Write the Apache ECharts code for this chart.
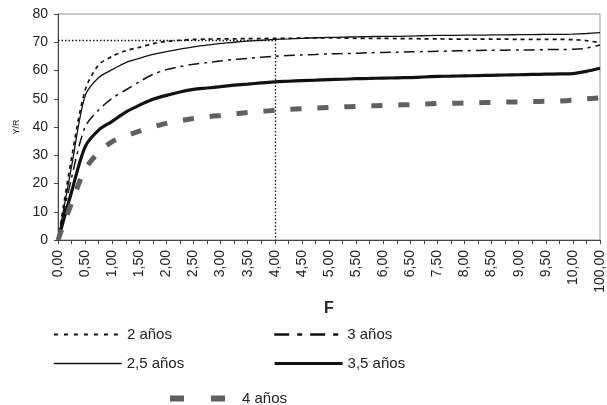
<!DOCTYPE html>
<html>
<head>
<meta charset="utf-8">
<script src="https://cdn.jsdelivr.net/npm/echarts@6/dist/echarts.min.js"></script>
<style>
html,body{margin:0;padding:0;background:#fff;}
#chart{width:607px;height:405px;}
</style>
</head>
<body>
<div id="chart"></div>
<script>
/*categorias del eje F*/
var cats = ['0,00','0,25','0,50','0,75','1,00','1,25','1,50','1,75','2,00','2,25','2,50','2,75','3,00','3,25','3,50','3,75','4,00','4,25','4,50','4,75','5,00','5,25','5,50','5,75','6,00','6,25','6,50','7,00','7,50','7,75','8,00','8,25','8,50','8,75','9,00','9,25','9,50','9,75','10,00','20,00','100,00'];

/*Y/R para cada edad*/
var y2  = [0,29,53,62,65,67,68.2,69.5,70.3,70.7,71,71.1,71.2,71.2,71.3,71.3,71.4,71.4,71.5,71.5,71.5,71.5,71.4,71.4,71.4,71.3,71.3,71.2,71.2,71.1,71.1,71.1,71.1,71.1,71,71,71,71,70.9,70.6,69.8];
var y25 = [0,26,51,57.5,60.3,62.8,64.3,65.7,66.7,67.6,68.4,69,69.6,70,70.4,70.7,71,71.2,71.4,71.6,71.7,71.8,71.9,72,72.1,72.1,72.2,72.3,72.4,72.4,72.5,72.5,72.6,72.6,72.7,72.7,72.8,72.8,72.9,73.1,73.4];
var y3  = [0,22,40,46,50.2,53.1,56,58.6,60.3,61.4,62.2,62.8,63.4,63.9,64.3,64.7,65,65.3,65.5,65.7,65.9,66,66.1,66.3,66.4,66.5,66.6,66.7,66.8,66.9,67,67.1,67.2,67.2,67.3,67.3,67.4,67.4,67.5,67.9,69];
var y35 = [0,17,33,38.9,42,45.3,47.7,49.8,51.2,52.4,53.3,53.8,54.3,54.8,55.2,55.6,56,56.2,56.4,56.6,56.8,56.9,57.1,57.2,57.3,57.4,57.5,57.7,57.9,58,58.1,58.2,58.3,58.4,58.5,58.6,58.7,58.8,58.9,59.7,60.8];
var y4  = [0,13,25,31,34.8,36.8,38.5,40,41.3,42.2,43,43.6,44.1,44.6,45.1,45.5,45.9,46.2,46.5,46.7,46.9,47.1,47.3,47.5,47.6,47.8,47.9,48.1,48.3,48.4,48.5,48.6,48.7,48.8,48.9,49,49.1,49.2,49.5,50,50.3];

/*linea de referencia*/
var refF = '4,00';
var refY = 70.8;

var fuente = 'Liberation Sans, Arial, sans-serif';
var myChart = echarts.init(document.getElementById('chart'));

function leyenda(nombre, x, y, linea, ancho){
	return {
		data:[nombre],
		left:x,
		top:y,
		padding:0,
		orient:'horizontal',
		itemWidth:ancho || 68,
		itemHeight:14,
		itemStyle:{opacity:0},
		lineStyle:linea,
		textStyle:{fontFamily:fuente,fontSize:15,color:'#222'},
		selectedMode:false
	};
}

var option = {
	animation:false,
	backgroundColor:'#fff',
	grid:{
		left:58,
		right:7,
		top:14,
		bottom:165,
		show:true,
		borderColor:'#999',
		borderWidth:1
	},
	legend:[
		leyenda('2 años',53,327,{width:1.8,type:[4,6]}),
		leyenda('3 años',273,327,{width:2.4,type:[15,8,5,8]}),
		leyenda('2,5 años',53,356,{width:1.3}),
		leyenda('3,5 años',273,356,{width:3.2}),
		leyenda('4 años',167,391,{width:6,type:[14,27,14,100]},67)
	],
	xAxis:{
		type:'category',
		data:cats,
		boundaryGap:false,
		name:'F',
		nameLocation:'middle',
		nameGap:52,
		nameTextStyle:{fontFamily:fuente,fontSize:16,fontWeight:'bold',color:'#222'},
		axisLine:{lineStyle:{color:'#444',width:1}},
		axisTick:{interval:0,length:4,lineStyle:{color:'#444'}},
		axisLabel:{interval:1,rotate:90,fontFamily:fuente,fontSize:14,color:'#222',margin:10},
		splitLine:{show:false}
	},
	yAxis:{
		type:'value',
		min:0,
		max:80,
		interval:10,
		name:'Y/R',
		nameLocation:'middle',
		nameRotate:90,
		nameGap:37,
		nameTextStyle:{fontFamily:fuente,fontSize:9,color:'#222'},
		axisLine:{show:true,lineStyle:{color:'#444',width:1}},
		axisTick:{show:true,length:4,lineStyle:{color:'#444'}},
		axisLabel:{fontFamily:fuente,fontSize:14,color:'#222',margin:10},
		splitLine:{show:false}
	},
	series:[
		{
			name:'2 años',type:'line',data:y2,symbol:'none',smooth:0.3,
			lineStyle:{color:'#111',width:1.7,type:[4,4]},
			itemStyle:{color:'#111'},
			markLine:{
				silent:true,symbol:'none',label:{show:false},
				lineStyle:{color:'#111',width:1.3,type:[1.5,2]},
				data:[
					[{coord:[cats[0],refY]},{coord:[refF,refY]}],
					[{coord:[refF,refY]},{coord:[refF,0]}]
				]
			}
		},
		{
			name:'3 años',type:'line',data:y3,symbol:'none',smooth:0.3,
			lineStyle:{color:'#111',width:1.5,type:[11,5,3,5]},
			itemStyle:{color:'#111'}
		},
		{
			name:'2,5 años',type:'line',data:y25,symbol:'none',smooth:0.3,
			lineStyle:{color:'#111',width:1.3,type:'solid'},
			itemStyle:{color:'#111'}
		},
		{
			name:'3,5 años',type:'line',data:y35,symbol:'none',smooth:0.3,
			lineStyle:{color:'#111',width:3.2,type:'solid'},
			itemStyle:{color:'#111'}
		},
		{
			name:'4 años',type:'line',data:y4,symbol:'none',smooth:0.3,
			lineStyle:{color:'#606060',width:5,type:[11,16]},
			itemStyle:{color:'#606060'}
		}
	]
};
myChart.setOption(option);
</script>
</body>
</html>
